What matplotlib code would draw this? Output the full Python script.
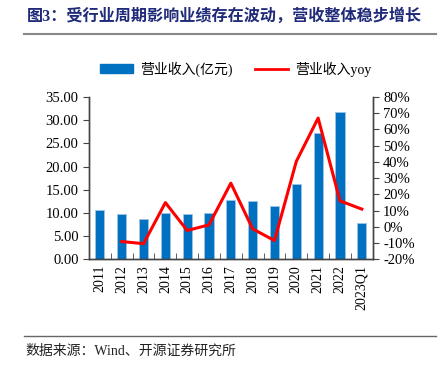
import matplotlib
matplotlib.use("Agg")
import matplotlib.pyplot as plt
from matplotlib.lines import Line2D
from matplotlib.ticker import FuncFormatter, MultipleLocator
import numpy as np

plt.rcParams['font.family'] = ['Liberation Serif', 'Noto Sans CJK SC']

years = ['2011', '2012', '2013', '2014', '2015', '2016', '2017',
         '2018', '2019', '2020', '2021', '2022', '2023Q1']
revenue = [10.7, 9.7, 8.7, 10.0, 9.8, 10.0, 12.7, 12.6, 11.5, 16.3, 27.2, 31.8, 7.8]
yoy = [None, -9.1, -10.4, 14.9, -2.3, 1.2, 26.9, -1.3, -8.5, 40.3, 67.0, 16.0, 10.9]

title = '图3：受行业周期影响业绩存在波动，营收整体稳步增长'
source = '数据来源：Wind、开源证券研究所'
bar_label = '营业收入(亿元)'
line_label = '营业收入yoy'

fig = plt.figure(figsize=(4.45, 3.73), dpi=100)
ax = fig.add_axes([0.2, 0.305, 0.6375, 0.435])
ax2 = ax.twinx()

x = np.arange(len(years))
ax.bar(x, revenue, width=0.42, color='#0070C0', edgecolor='#9DC3E6', linewidth=0.6, zorder=2)
xl = [i for i, v in enumerate(yoy) if v is not None]
yl = [v for v in yoy if v is not None]
ax2.plot(xl, yl, color='#FF0000', linewidth=2.2, zorder=3)

ax.set_xlim(-0.5, len(years) - 0.5)
ax.set_ylim(0, 35)
ax.yaxis.set_major_locator(MultipleLocator(5))
ax.yaxis.set_major_formatter(FuncFormatter(lambda v, p: f'{v:.2f}'))
ax2.set_ylim(-20, 80)
ax2.yaxis.set_major_locator(MultipleLocator(10))
ax2.yaxis.set_major_formatter(FuncFormatter(lambda v, p: f'{v:.0f}%'))

ax.set_xticks(x)
ax.set_xticklabels(years, rotation=90, fontsize=10)
ax.tick_params(axis='x', length=0, pad=4)
ax.set_xticks(np.arange(-0.5, len(years), 1), minor=True)
ax.tick_params(axis='x', which='minor', direction='in', length=4, color='#444444')
ax.tick_params(axis='y', direction='out', length=4, labelsize=10.5, color='#444444')
ax2.tick_params(axis='y', direction='out', length=4, labelsize=10.5, color='#444444')

for a in (ax, ax2):
    a.spines['top'].set_visible(False)
    for s in ('left', 'right', 'bottom'):
        a.spines[s].set_color('#444444')
        a.spines[s].set_linewidth(1.0)

handles = [plt.Rectangle((0, 0), 1, 1, color='#0070C0'),
           Line2D([0], [0], color='#FF0000', linewidth=2)]
fig.legend(handles, [bar_label, line_label], loc='center', bbox_to_anchor=(0.53, 0.815),
           ncol=2, frameon=False, fontsize=10, handlelength=2.4, handleheight=0.6,
           columnspacing=1.6, handletextpad=0.5)

fig.text(0.06, 0.955, title, fontsize=11.6, fontweight='bold', color='#1F2A78',
         va='center', ha='left')
fig.add_artist(Line2D([0.054, 0.98], [0.91, 0.91], color='#888888', linewidth=1.5))
fig.add_artist(Line2D([0.054, 0.98], [0.1, 0.1], color='#666666', linewidth=1.0))
fig.text(0.058, 0.058, source, fontsize=10, color='#222222', va='center', ha='left')

fig.savefig('out.png', dpi=100)
